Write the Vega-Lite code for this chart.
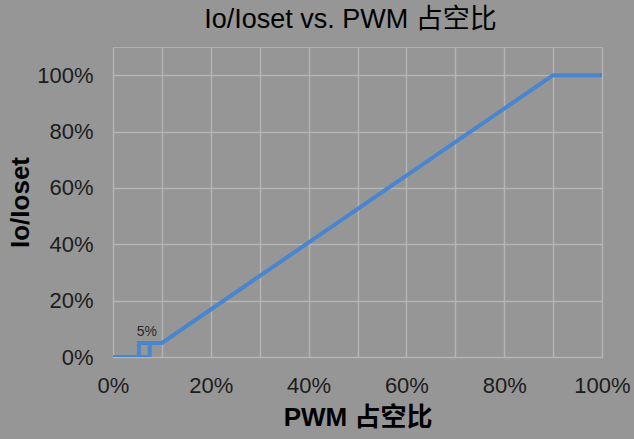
{
  "$schema": "https://vega.github.io/schema/vega-lite/v6.json",
  "autosize": "none",
  "width": 489,
  "height": 310,
  "padding": {"left": 113, "top": 47, "right": 32, "bottom": 82},
  "background": "#969696",
  "config": {
    "view": {"stroke": "#b0b0b0", "strokeWidth": 1},
    "font": "Liberation Sans, Noto Sans CJK SC",
    "axis": {
      "domain": false,
      "ticks": false,
      "gridColor": "#b4b4b4",
      "gridWidth": 1.5,
      "gridOpacity": 1,
      "labelFont": "Liberation Sans",
      "labelFontSize": 22,
      "labelColor": "#1c1c1c",
      "titleFont": "Liberation Sans, Noto Sans CJK SC",
      "titleFontSize": 26,
      "titleFontWeight": "bold",
      "titleColor": "#000000"
    }
  },
  "title": {
    "text": "Io/Ioset vs. PWM 占空比",
    "font": "Liberation Sans, Noto Sans CJK SC",
    "fontSize": 27,
    "fontWeight": "normal",
    "color": "#000000",
    "anchor": "middle",
    "offset": 13,
    "dx": -7
  },
  "datasets": {
    "curve": [
      {"seg": "a", "i": 0, "pwm": 0.0, "io": 0.0},
      {"seg": "a", "i": 1, "pwm": 0.075, "io": 0.0},
      {"seg": "a", "i": 2, "pwm": 0.075, "io": 0.05},
      {"seg": "a", "i": 3, "pwm": 0.1, "io": 0.05},
      {"seg": "a", "i": 4, "pwm": 0.9, "io": 1.0},
      {"seg": "a", "i": 5, "pwm": 1.0, "io": 1.0},
      {"seg": "b", "i": 0, "pwm": 0.053, "io": 0.0},
      {"seg": "b", "i": 1, "pwm": 0.053, "io": 0.05},
      {"seg": "b", "i": 2, "pwm": 0.075, "io": 0.05}
    ],
    "note": [
      {"pwm": 0.069, "io": 0.089, "label": "5%"}
    ]
  },
  "layer": [
    {
      "data": {"name": "curve"},
      "mark": {"type": "line", "color": "#4a86cf", "strokeWidth": 4, "clip": true, "strokeJoin": "miter"},
      "encoding": {
        "x": {
          "field": "pwm", "type": "quantitative",
          "scale": {"domain": [0, 1], "nice": false, "zero": false},
          "axis": {
            "title": "PWM 占空比",
            "values": [0, 0.1, 0.2, 0.3, 0.4, 0.5, 0.6, 0.7, 0.8, 0.9, 1.0],
            "format": ".0%",
            "labelExpr": "round(datum.value*10) % 2 == 0 ? datum.label : ''",
            "labelPadding": 18,
            "labelFlush": false,
            "titlePadding": 8
          }
        },
        "y": {
          "field": "io", "type": "quantitative",
          "scale": {"domain": [0, 1.1], "nice": false},
          "axis": {
            "title": "Io/Ioset",
            "values": [0, 0.1, 0.2, 0.3, 0.4, 0.5, 0.6, 0.7, 0.8, 0.9, 1.0],
            "format": ".0%",
            "labelExpr": "round(datum.value*10) % 2 == 0 ? datum.label : ''",
            "labelPadding": 20,
            "titlePadding": 3
          }
        },
        "detail": {"field": "seg"},
        "order": {"field": "i", "type": "quantitative"}
      }
    },
    {
      "data": {"name": "note"},
      "mark": {"type": "text", "fontSize": 14, "color": "#2a2a2a", "font": "Liberation Sans"},
      "encoding": {
        "x": {"field": "pwm", "type": "quantitative"},
        "y": {"field": "io", "type": "quantitative"},
        "text": {"field": "label"}
      }
    }
  ]
}
